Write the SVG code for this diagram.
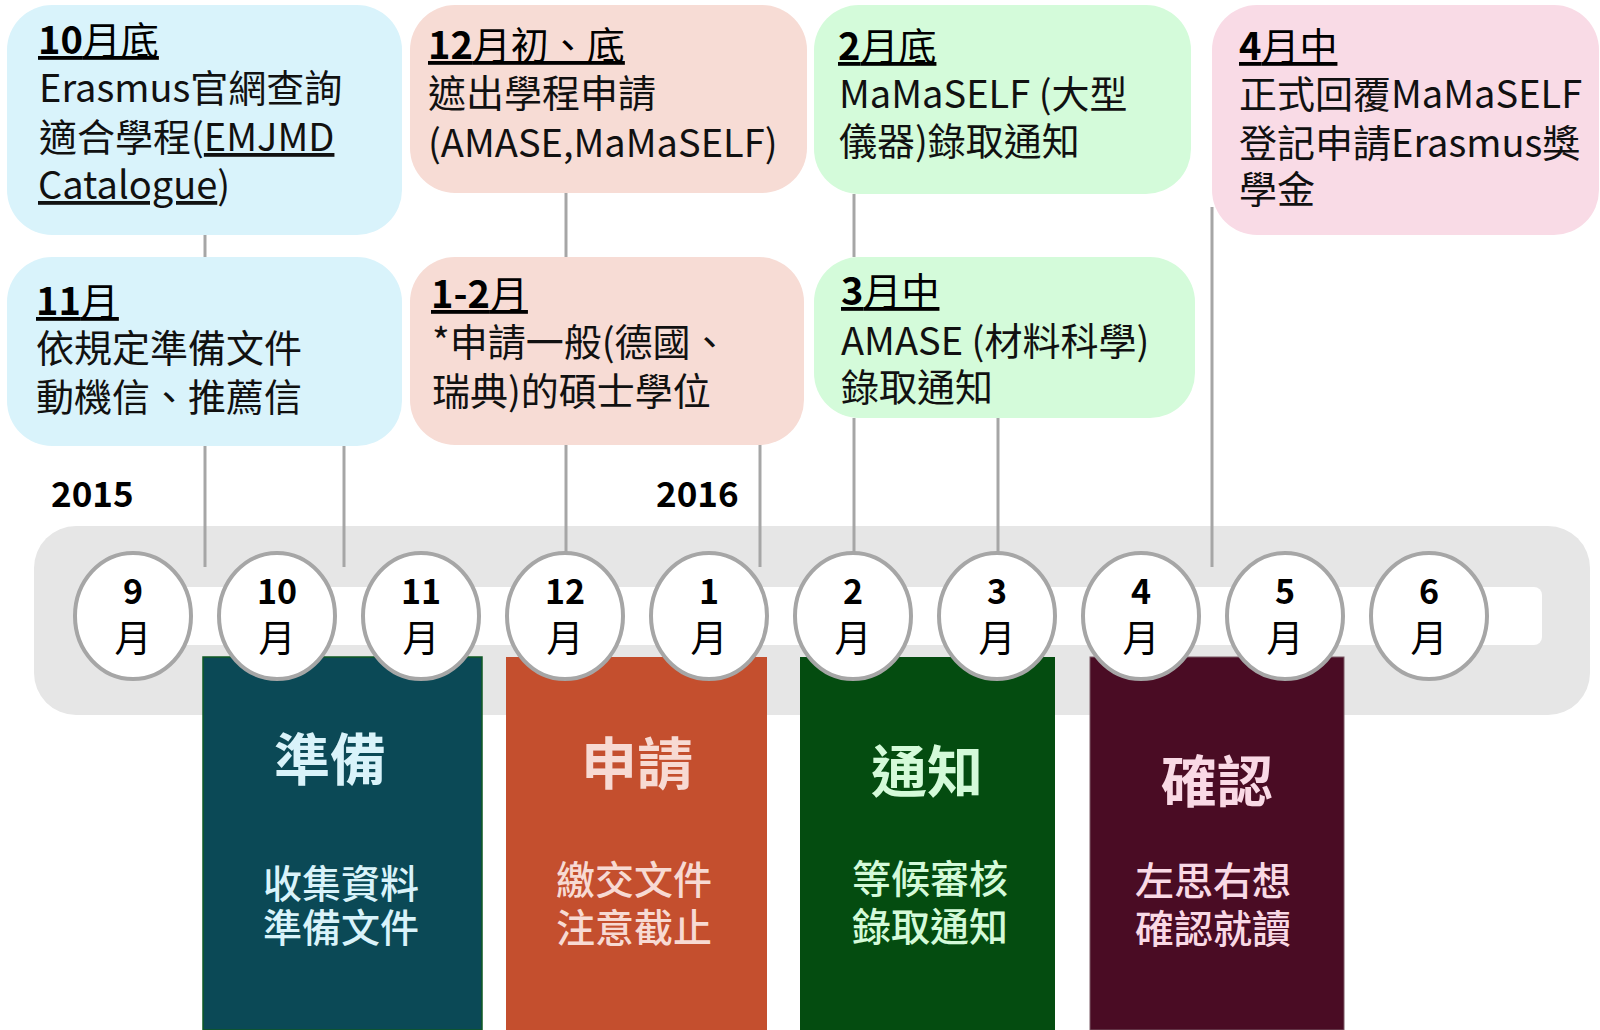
<svg xmlns="http://www.w3.org/2000/svg" width="1600" height="1030" viewBox="0 0 1600 1030">
<style>
text{font-family:'Noto Sans CJK TC','Noto Sans CJK SC','Liberation Sans',sans-serif;}
.body{font-size:38px;fill:#111;}
.hd{fill:#000;text-decoration:underline;}
.b{font-weight:700;}
.ul{text-decoration:underline;}
.conn{stroke:#A6A6A6;stroke-width:3;fill:none;}
.mc{fill:#fff;stroke:#A6A6A6;stroke-width:4;}
.mn{font-size:34px;font-weight:700;fill:#000;text-anchor:middle;}
.my{font-size:37px;fill:#000;text-anchor:middle;}
.yr{font-size:35px;font-weight:700;fill:#000;}
.pt{font-size:56px;font-weight:700;text-anchor:middle;}
.ps{font-size:39px;font-weight:500;text-anchor:middle;}
</style>

<!-- timeline bar -->
<g id="timeline">
<rect x="34" y="526" width="1556" height="189" rx="42" fill="#E6E6E6"/>
<rect x="130" y="587" width="1412" height="58" rx="8" fill="#FFFFFF"/>
</g>

<!-- phase blocks -->
<g id="phase-prepare">
<rect x="203" y="657" width="279" height="373" fill="#0B4956" stroke="#0F5A25" stroke-width="1.5"/>
<text class="pt" x="330" y="780" fill="#D9F3FA">準備</text>
<text class="ps" x="341" y="898" fill="#D9F3FA">收集資料</text>
<text class="ps" x="341" y="942" fill="#D9F3FA">準備文件</text>
</g>
<g id="phase-apply">
<rect x="506" y="657" width="261" height="373" fill="#C44F2E"/>
<text class="pt" x="637" y="784" fill="#F7DAD3">申請</text>
<text class="ps" x="634" y="894" fill="#F7DAD3">繳交文件</text>
<text class="ps" x="634" y="942" fill="#F7DAD3">注意截止</text>
</g>
<g id="phase-notify">
<rect x="800" y="657" width="255" height="373" fill="#044C10"/>
<text class="pt" x="927" y="792" fill="#D4FAD9">通知</text>
<text class="ps" x="930" y="893" fill="#D4FAD9">等候審核</text>
<text class="ps" x="930" y="941" fill="#D4FAD9">錄取通知</text>
</g>
<g id="phase-confirm">
<rect x="1090" y="657" width="254" height="373" fill="#4A0C24" stroke="#7A5A66" stroke-width="1"/>
<text class="pt" x="1217" y="802" fill="#F9D9E5">確認</text>
<text class="ps" x="1213" y="895" fill="#F9D9E5">左思右想</text>
<text class="ps" x="1213" y="943" fill="#F9D9E5">確認就讀</text>
</g>

<!-- connectors -->
<g id="connectors">
<line class="conn" x1="205" y1="235" x2="205" y2="257"/>
<line class="conn" x1="205" y1="446" x2="205" y2="567"/>
<line class="conn" x1="344" y1="446" x2="344" y2="567"/>
<line class="conn" x1="566" y1="193" x2="566" y2="257"/>
<line class="conn" x1="566" y1="445" x2="566" y2="552"/>
<line class="conn" x1="760" y1="445" x2="760" y2="567"/>
<line class="conn" x1="854" y1="194" x2="854" y2="257"/>
<line class="conn" x1="854" y1="418" x2="854" y2="552"/>
<line class="conn" x1="998" y1="418" x2="998" y2="552"/>
<line class="conn" x1="1212" y1="207" x2="1212" y2="567"/>
</g>

<!-- year labels -->
<text class="yr" x="51" y="507">2015</text>
<text class="yr" x="656" y="507">2016</text>

<!-- month circles -->
<g id="m9"><ellipse class="mc" cx="133" cy="616" rx="58" ry="63"/><text class="mn" x="133" y="604">9</text><text class="my" x="133" y="652">月</text></g>
<g id="m10"><ellipse class="mc" cx="277" cy="616" rx="58" ry="63"/><text class="mn" x="277" y="604">10</text><text class="my" x="277" y="652">月</text></g>
<g id="m11"><ellipse class="mc" cx="421" cy="616" rx="58" ry="63"/><text class="mn" x="421" y="604">11</text><text class="my" x="421" y="652">月</text></g>
<g id="m12"><ellipse class="mc" cx="565" cy="616" rx="58" ry="63"/><text class="mn" x="565" y="604">12</text><text class="my" x="565" y="652">月</text></g>
<g id="m1"><ellipse class="mc" cx="709" cy="616" rx="58" ry="63"/><text class="mn" x="709" y="604">1</text><text class="my" x="709" y="652">月</text></g>
<g id="m2"><ellipse class="mc" cx="853" cy="616" rx="58" ry="63"/><text class="mn" x="853" y="604">2</text><text class="my" x="853" y="652">月</text></g>
<g id="m3"><ellipse class="mc" cx="997" cy="616" rx="58" ry="63"/><text class="mn" x="997" y="604">3</text><text class="my" x="997" y="652">月</text></g>
<g id="m4"><ellipse class="mc" cx="1141" cy="616" rx="58" ry="63"/><text class="mn" x="1141" y="604">4</text><text class="my" x="1141" y="652">月</text></g>
<g id="m5"><ellipse class="mc" cx="1285" cy="616" rx="58" ry="63"/><text class="mn" x="1285" y="604">5</text><text class="my" x="1285" y="652">月</text></g>
<g id="m6"><ellipse class="mc" cx="1429" cy="616" rx="58" ry="63"/><text class="mn" x="1429" y="604">6</text><text class="my" x="1429" y="652">月</text></g>

<!-- event boxes -->
<g id="ev-oct">
<rect x="7" y="5" width="395" height="230" rx="45" fill="#D9F3FB"/>
<text class="body" x="38" y="54"><tspan class="hd"><tspan class="b">10</tspan>月底</tspan></text>
<text class="body" x="39" y="102">Erasmus官網查詢</text>
<text class="body" x="39" y="151">適合學程(<tspan class="ul">EMJMD</tspan></text>
<text class="body" x="38" y="199"><tspan class="ul">Catalogue</tspan>)</text>
</g>
<g id="ev-nov">
<rect x="7" y="257" width="395" height="189" rx="45" fill="#D9F3FB"/>
<text class="body" x="36" y="315"><tspan class="hd"><tspan class="b">11</tspan>月</tspan></text>
<text class="body" x="36" y="362">依規定準備文件</text>
<text class="body" x="36" y="411">動機信、推薦信</text>
</g>
<g id="ev-dec">
<rect x="410" y="5" width="397" height="188" rx="45" fill="#F7DCD5"/>
<text class="body" x="428" y="59"><tspan class="hd"><tspan class="b">12</tspan>月初、底</tspan></text>
<text class="body" x="428" y="107">遮出學程申請</text>
<text class="body" x="428" y="157">(AMASE,MaMaSELF)</text>
</g>
<g id="ev-jan">
<rect x="410" y="257" width="394" height="188" rx="45" fill="#F7DCD5"/>
<text class="body" x="431" y="308"><tspan class="hd"><tspan class="b">1-2</tspan>月</tspan></text>
<text class="body" x="432" y="356">*申請一般(德國、</text>
<text class="body" x="432" y="405">瑞典)的碩士學位</text>
</g>
<g id="ev-feb">
<rect x="814" y="5" width="377" height="189" rx="45" fill="#D4FBDA"/>
<text class="body" x="838" y="60"><tspan class="hd"><tspan class="b">2</tspan>月底</tspan></text>
<text class="body" x="839" y="108">MaMaSELF (大型</text>
<text class="body" x="839" y="155">儀器)錄取通知</text>
</g>
<g id="ev-mar">
<rect x="814" y="257" width="381" height="161" rx="45" fill="#D4FBDA"/>
<text class="body" x="841" y="305"><tspan class="hd"><tspan class="b">3</tspan>月中</tspan></text>
<text class="body" x="841" y="355">AMASE (材料科學)</text>
<text class="body" x="841" y="401">錄取通知</text>
</g>
<g id="ev-apr">
<rect x="1212" y="5" width="387" height="230" rx="45" fill="#F9DBE6"/>
<text class="body" x="1239" y="60"><tspan class="hd"><tspan class="b">4</tspan>月中</tspan></text>
<text class="body" x="1239" y="108">正式回覆MaMaSELF</text>
<text class="body" x="1239" y="157">登記申請Erasmus獎</text>
<text class="body" x="1239" y="203">學金</text>
</g>
</svg>
